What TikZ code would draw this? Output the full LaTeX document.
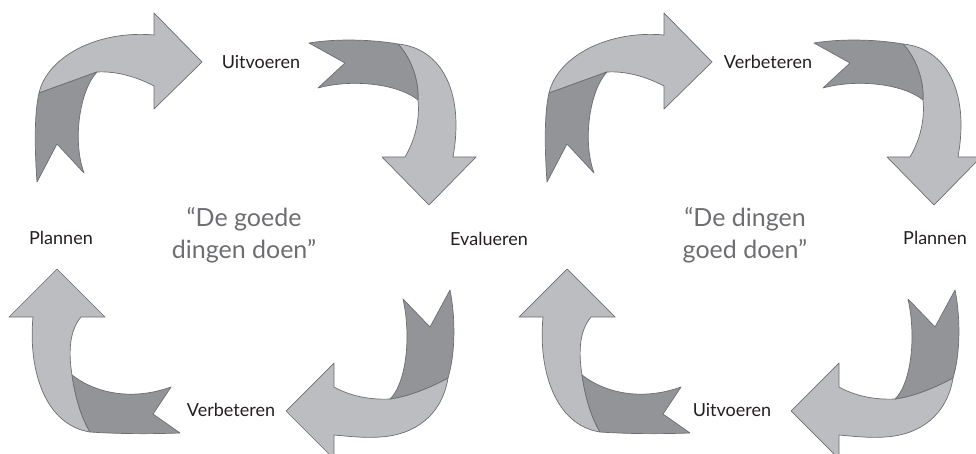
\documentclass[tikz,border=0pt]{standalone}
\usepackage{fontspec}
\setmainfont{Lato}
\definecolor{arrlight}{HTML}{BCBDC0}
\definecolor{arrdark}{HTML}{939497}
\definecolor{arredge}{HTML}{6D6E71}
\definecolor{quotegray}{HTML}{6D6E71}
\definecolor{labelblack}{HTML}{231F20}
\tikzset{
  lightpart/.style={fill=arrlight, draw=arredge, line width=0.7pt, line join=round},
  darkpart/.style={fill=arrdark, draw=arredge, line width=0.7pt, line join=round},
  steplabel/.style={inner sep=0pt, text=labelblack, font=\fontsize{18}{21}\selectfont},
  quotelabel/.style={inner sep=0pt, align=center, text=quotegray, font=\fontsize{25}{32}\selectfont}
}
% top-left arrow (tail at bottom-left, head pointing right)
\newcommand\tlArrow{%
  \path[lightpart] (39,93) .. controls (48,55) and (100,30) .. (154,35)
    -- (154,13) -- (202,62) -- (154,109) -- (154,86)
    .. controls (135,76) and (115,71) .. (97,72) -- cycle;
  \path[darkpart] (39,93) -- (97,72) .. controls (80,90) and (72,140) .. (84,173)
    -- (57,144) -- (37,182) .. controls (34,140) and (35,110) .. (39,93) -- cycle;
}
% top-right arrow (tail at left, head pointing down)
\newcommand\trArrow{%
  \path[lightpart] (398,44) .. controls (440,48) and (465,90) .. (453,157)
    -- (476,157) -- (429,205) -- (382,157) -- (405,157)
    .. controls (415,140) and (420,120) .. (418,100)
    .. controls (419,80) and (411,58) .. (398,44) -- cycle;
  \path[darkpart] (309,43) .. controls (340,38) and (375,40) .. (398,44)
    .. controls (411,58) and (419,80) .. (418,100)
    .. controls (400,85) and (355,78) .. (318,88)
    -- (345,63) -- cycle;
}
% bottom-right arrow (tail at top, head pointing left)
\newcommand\brArrow{%
  \path[lightpart] (334,387) -- (334,363) -- (286,411) -- (334,459) -- (334,435)
    .. controls (355,437) and (368,438) .. (380,437)
    .. controls (415,435) and (442,415) .. (448,378)
    .. controls (429,388) and (410,396) .. (390,399)
    .. controls (370,400) and (350,396) .. (334,387) -- cycle;
  \path[darkpart] (403,299) -- (430,327) -- (450,290)
    .. controls (456,320) and (455,355) .. (448,378)
    .. controls (429,388) and (410,396) .. (390,399)
    .. controls (405,385) and (412,340) .. (403,299) -- cycle;
}
% bottom-left arrow (tail at right, head pointing up)
\newcommand\blArrow{%
  \path[lightpart] (33,317) -- (9,317) -- (57,269) -- (105,317) -- (81,317)
    .. controls (70,330) and (68,350) .. (72,375)
    .. controls (75,395) and (80,415) .. (90,432)
    .. controls (45,425) and (28,370) .. (33,317) -- cycle;
  \path[darkpart] (72,375) .. controls (75,395) and (80,415) .. (90,432)
    .. controls (120,434) and (150,434) .. (180,433)
    -- (153,414) -- (171,387)
    .. controls (135,400) and (98,395) .. (72,375) -- cycle;
}
\begin{document}
\begin{tikzpicture}[x=1pt,y=-1pt]
  \useasboundingbox (0,0) rectangle (976,454);
  \clip (0,0) rectangle (976,454);
  % left cycle
  \tlArrow
  \trArrow
  \brArrow
  \blArrow
  % right cycle
  \begin{scope}[shift={(510,0)}]
    \tlArrow
    \blArrow
  \end{scope}
  \begin{scope}[shift={(505,0)}]
    \trArrow
    \brArrow
  \end{scope}
  % labels, left cycle
  \node[steplabel] (uitL) at (261,62) {Uitvoeren};
  \node[steplabel] (planL) at (61,238) {Plannen};
  \node[steplabel] (evalL) at (489,239) {Evalueren};
  \node[steplabel] (verbL) at (231,410) {Verbeteren};
  \node[quotelabel] (quoteL) at (244,235) {“De goede\\dingen doen”};
  % labels, right cycle
  \node[steplabel] (verbR) at (768,62) {Verbeteren};
  \node[steplabel] (planR) at (935,238) {Plannen};
  \node[steplabel] (uitR) at (732,410) {Uitvoeren};
  \node[quotelabel] (quoteR) at (745,235) {“De dingen\\goed doen”};
\end{tikzpicture}
\end{document}
